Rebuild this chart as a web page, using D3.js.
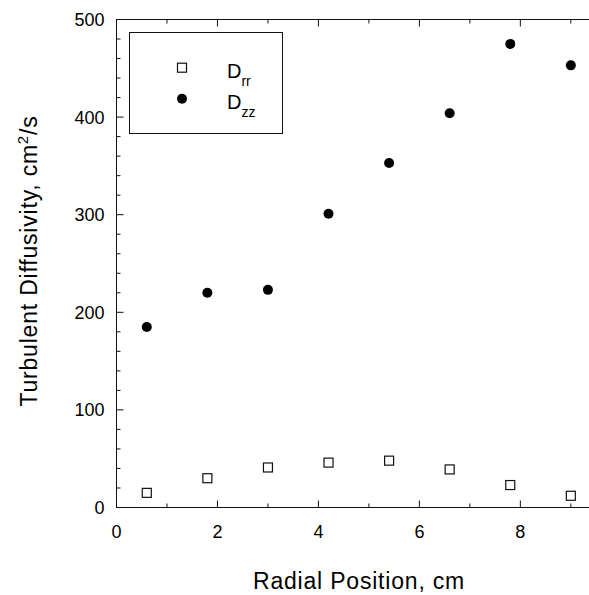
<!DOCTYPE html>
<html>
<head>
<meta charset="utf-8">
<script src="https://cdn.jsdelivr.net/npm/d3@7"></script>
<style>
html,body{margin:0;padding:0;background:#fff;}
svg{display:block;}
text{font-family:"Liberation Sans",Arial,Helvetica,sans-serif;fill:#000;}
</style>
</head>
<body>
<svg id="chart" width="589" height="595"></svg>
<script>
const radialPosition = [0.6, 1.8, 3.0, 4.2, 5.4, 6.6, 7.8, 9.0];
const Drr = [15, 30, 41, 46, 48, 39, 23, 12];
const Dzz = [185, 220, 223, 301, 353, 404, 475, 453];
const xTickLabels = [0, 2, 4, 6, 8];
const yTickLabels = [0, 100, 200, 300, 400, 500];

const svg = d3.select("#chart");
const margin = {left: 116.5, top: 19.5, right: 0, bottom: 87.5};
const W = 589, H = 595;
const x = d3.scaleLinear().domain([0, 9.35]).range([margin.left, W - 0.5]);
const y = d3.scaleLinear().domain([0, 500]).range([H - margin.bottom, margin.top]);

const stroke = "#111";
const xMinor = d3.range(0, 10, 1);
const yMinor = d3.range(0, 501, 20);

const g = svg.append("g");
g.append("line").attr("x1", x(0)).attr("x2", x(0)).attr("y1", y(0)).attr("y2", y(500)).attr("stroke", stroke);
g.append("line").attr("x1", x(0)).attr("x2", W).attr("y1", y(0)).attr("y2", y(0)).attr("stroke", stroke);
g.append("line").attr("x1", x(0)).attr("x2", W).attr("y1", y(500)).attr("y2", y(500)).attr("stroke", stroke);

xMinor.forEach(v => {
  const major = v % 2 === 0;
  const len = major ? 7 : 4;
  g.append("line").attr("x1", x(v)).attr("x2", x(v)).attr("y1", y(0)).attr("y2", y(0) - len).attr("stroke", stroke);
  g.append("line").attr("x1", x(v)).attr("x2", x(v)).attr("y1", y(500)).attr("y2", y(500) + len).attr("stroke", stroke);
});
yMinor.forEach(v => {
  const major = v % 100 === 0;
  const len = major ? 7 : 4;
  g.append("line").attr("x1", x(0)).attr("x2", x(0) + len).attr("y1", y(v)).attr("y2", y(v)).attr("stroke", stroke);
});

g.selectAll(".xl").data(xTickLabels).enter().append("text")
  .attr("x", d => x(d)).attr("y", y(0) + 30)
  .attr("text-anchor", "middle").attr("font-size", 18).text(d => d);
g.selectAll(".yl").data(yTickLabels).enter().append("text")
  .attr("x", x(0) - 12).attr("y", d => y(d) + 6.5)
  .attr("text-anchor", "end").attr("font-size", 18).text(d => d);

svg.append("text").attr("x", 359).attr("y", 589)
  .attr("text-anchor", "middle").attr("font-size", 23).attr("letter-spacing", 0.8).text("Radial Position, cm");
const yt = svg.append("text").attr("transform", "translate(37,261) rotate(-90)")
  .attr("text-anchor", "middle").attr("font-size", 23).attr("letter-spacing", 0.8);
yt.append("tspan").text("Turbulent Diffusivity, cm");
yt.append("tspan").attr("font-size", 15).attr("dy", -9).text("2");
yt.append("tspan").attr("dy", 9).text("/s");

svg.selectAll(".drr").data(radialPosition).enter().append("rect")
  .attr("x", (d) => x(d) - 4.5).attr("y", (d, i) => y(Drr[i]) - 4.5)
  .attr("width", 9).attr("height", 9)
  .attr("fill", "#fff").attr("stroke", stroke).attr("stroke-width", 1.2);
svg.selectAll(".dzz").data(radialPosition).enter().append("circle")
  .attr("cx", d => x(d)).attr("cy", (d, i) => y(Dzz[i]))
  .attr("r", 5).attr("fill", "#000");

const lg = svg.append("g");
lg.append("rect").attr("x", 129.5).attr("y", 32.5).attr("width", 153).attr("height", 101)
  .attr("fill", "none").attr("stroke", stroke);
lg.append("rect").attr("x", 182 - 4.5).attr("y", 67.7 - 4.5).attr("width", 9).attr("height", 9)
  .attr("fill", "#fff").attr("stroke", stroke).attr("stroke-width", 1.2);
lg.append("circle").attr("cx", 182).attr("cy", 98.7).attr("r", 5).attr("fill", "#000");
const t1 = lg.append("text").attr("x", 227).attr("y", 78).attr("font-size", 20);
t1.append("tspan").text("D");
t1.append("tspan").attr("font-size", 14).attr("dy", 8).text("rr");
const t2 = lg.append("text").attr("x", 227).attr("y", 109).attr("font-size", 20);
t2.append("tspan").text("D");
t2.append("tspan").attr("font-size", 14).attr("dy", 8).text("zz");
</script>
</body>
</html>
